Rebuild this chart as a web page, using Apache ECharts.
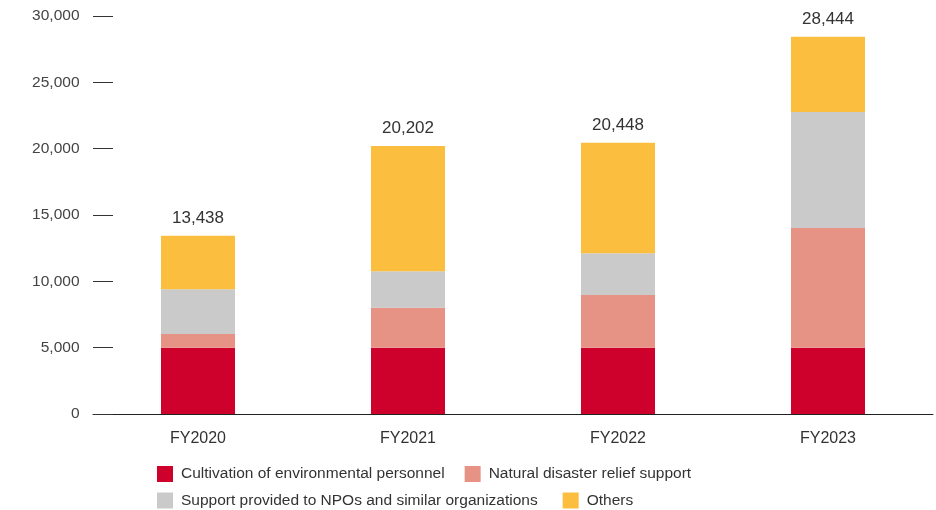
<!DOCTYPE html>
<html>
<head>
<meta charset="utf-8">
<script src="https://cdn.jsdelivr.net/npm/echarts@6/dist/echarts.min.js"></script>
<style>html,body{margin:0;padding:0;background:#fff}#c{width:936px;height:510px}</style>
</head>
<body>
<div id="c"></div>
<script>
const categories = ['FY2020', 'FY2021', 'FY2022', 'FY2023'];
const cultivation = [5000, 5000, 5000, 5000];
const disaster = [1030, 3000, 3970, 9020];
const npo = [3370, 2760, 3140, 8744];
const others = [4038, 9442, 8338, 5680];
const yTicks = [0, 5000, 10000, 15000, 20000, 25000, 30000];

const names = ['Cultivation of environmental personnel', 'Natural disaster relief support',
  'Support provided to NPOs and similar organizations', 'Others'];
const colors = ['#CE002C', '#E69386', '#C9CAC9', '#FBBE3E'];
const FONT = 'Liberation Sans, Arial, Helvetica, sans-serif';

const chart = echarts.init(document.getElementById('c'));
const seriesData = [cultivation, disaster, npo, others];
const totals = categories.map((_, i) => seriesData.reduce((s, a) => s + a[i], 0));

const legendText = { fontSize: 15.5, color: '#333', fontFamily: FONT, padding: [0, 0, 0, 3] };

chart.setOption({
  animation: false,
  textStyle: { fontFamily: FONT },
  grid: { left: 93, right: 3, top: 16, bottom: 96, containLabel: false },
  legend: [
    {
      left: 157, top: 466, itemWidth: 16, itemHeight: 16, itemGap: 20, icon: 'rect',
      padding: 0,
      data: [names[0], names[1]],
      textStyle: legendText
    },
    {
      left: 157, top: 492.5, itemWidth: 16, itemHeight: 16, itemGap: 25, icon: 'rect',
      padding: 0,
      data: [names[2], names[3]],
      textStyle: legendText
    }
  ],
  xAxis: {
    type: 'category',
    data: categories,
    axisLine: { lineStyle: { color: '#222', width: 1 } },
    axisTick: { show: false },
    axisLabel: { fontSize: 16, color: '#333', margin: 17, fontFamily: FONT }
  },
  yAxis: {
    type: 'value',
    min: yTicks[0],
    max: yTicks[yTicks.length - 1],
    interval: 5000,
    axisLine: { show: false },
    axisTick: { show: true, inside: true, length: 20, lineStyle: { color: '#333', width: 1 } },
    splitLine: { show: false },
    axisLabel: {
      fontSize: 15.5, color: '#444', margin: 13.5, fontFamily: FONT,
      formatter: v => v.toLocaleString('en-US')
    }
  },
  series: seriesData.map((d, k) => ({
    name: names[k],
    type: 'bar',
    stack: 'total',
    data: d,
    barWidth: 74,
    itemStyle: { color: colors[k] },
    label: k === 3 ? {
      show: true, position: 'top', distance: 9,
      fontSize: 17, color: '#333', fontFamily: FONT,
      formatter: p => totals[p.dataIndex].toLocaleString('en-US')
    } : { show: false }
  }))
});
</script>
</body>
</html>
